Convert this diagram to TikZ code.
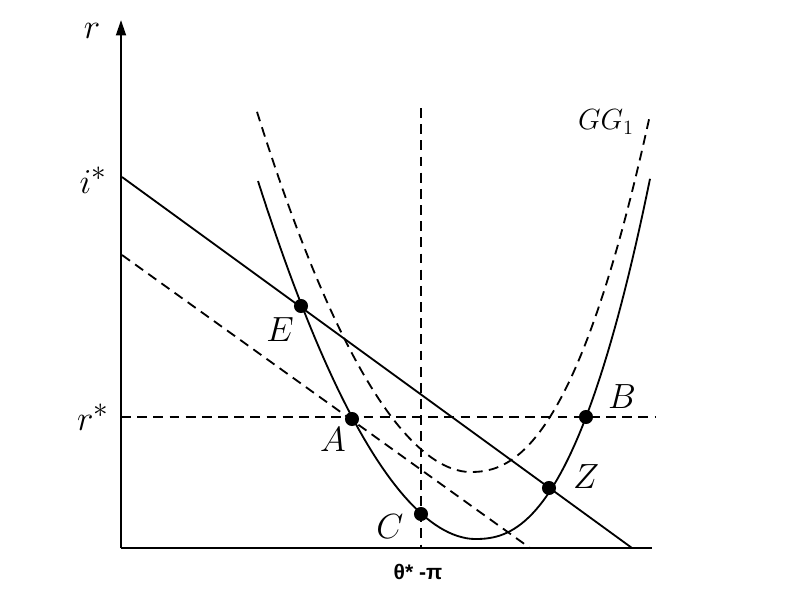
\documentclass[tikz,border=0pt]{standalone}
\usepackage{fontspec}
\newfontfamily\axisfont{Liberation Sans}
\usetikzlibrary{arrows.meta}
\begin{document}
\begin{tikzpicture}[x=.025cm,y=-.025cm,line width=1.3pt,
  guide/.style={dash pattern=on 7pt off 4.5pt},
  pt/.style={circle,fill,inner sep=0pt,minimum size=10pt},
  lab/.style={font=\Huge}]
\useasboundingbox(0,0)rectangle(800,600);
\coordinate(O)at(121,548);\coordinate(ytop)at(121,20);\coordinate(xend)at(652,548);
\draw[line width=1.6pt,-{Triangle[length=11pt,width=7pt]}](O)--(ytop);\draw[line width=1.6pt](O)--(xend);
\node[lab](rlab)at(92,31){$r$};\node[lab](ilab)at(93,180){$i^*$};\node[lab](rslab)at(93,417){$r^*$};
% guides and the two straight lines
\coordinate(rs)at(121,417);\coordinate(rsend)at(655,417);\draw[guide](rs)--(rsend);
\coordinate(vtop)at(421,108);\coordinate(vbot)at(421,548);\draw[guide](vtop)--(vbot);
\coordinate(istar)at(122,177);\coordinate(iend)at(632,548);\draw(istar)--(iend);
\coordinate(dstart)at(122,255);\coordinate(dend)at(530,548);\draw[guide](dstart)--(dend);
% the two curves, steeper on the right
\draw plot[domain=258:475,samples=50](\x,{539-82.4*((475.01-\x)/100)^1.896})--plot[domain=475:650,samples=50](\x,{539-95.1*((\x-474.99)/100)^2.38});
\draw[guide] plot[domain=257:470,samples=50](\x,{472-86.8*((470.01-\x)/100)^1.882})--plot[domain=470:650,samples=50](\x,{472-92.1*((\x-469.99)/100)^2.306});
\node[font=\huge](gglab)at(606,122){$GG_1$};
\foreach \name/\px/\py/\lx/\ly in {E/301/306/280/330,A/352/419/333/440,C/421/514/390/527,Z/549/488/586/477,B/586/417/622/397}{\node[pt](\name)at(\px,\py){};\node[lab](lab\name)at(\lx,\ly){$\name$};}
\node[font=\axisfont\bfseries\fontsize{15}{18}\selectfont](thetalab)at(418,572){θ* -π};
\end{tikzpicture}
\end{document}
